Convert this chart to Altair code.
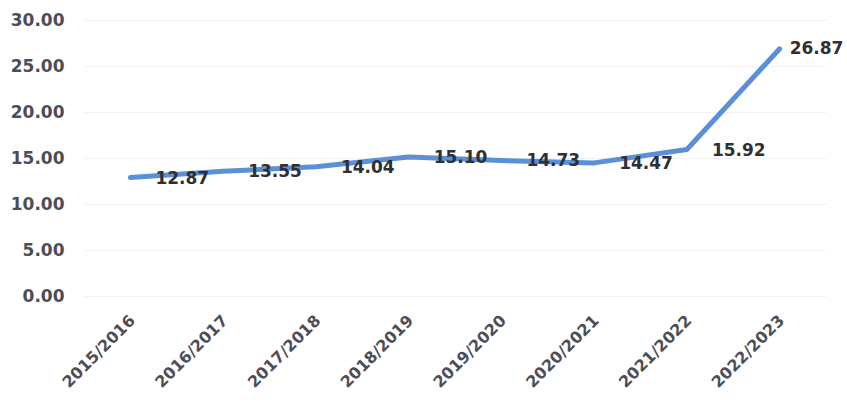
import altair as alt
import pandas as pd

years = ["2015/2016", "2016/2017", "2017/2018", "2018/2019",
         "2019/2020", "2020/2021", "2021/2022", "2022/2023"]
values = [12.87, 13.55, 14.04, 15.10, 14.73, 14.47, 15.92, 26.87]

df = pd.DataFrame({"year": years, "value": values})
last_year = years[-1]

FONT = "DejaVu Sans"

base = alt.Chart(df).encode(
    x=alt.X("year:N", sort=years, title=None,
            scale=alt.Scale(paddingInner=0, paddingOuter=0.5),
            axis=alt.Axis(labelAngle=-45, labelFont=FONT,
                          labelFontWeight="bold", labelFontSize=16,
                          labelColor="#4d4d57", ticks=False, domain=False,
                          labelPadding=16, labelOffset=-4, grid=False)),
    y=alt.Y("value:Q", title=None,
            scale=alt.Scale(domain=[0, 30], nice=False),
            axis=alt.Axis(values=[0, 5, 10, 15, 20, 25, 30], format=".2f",
                          labelFont=FONT, labelFontWeight="bold",
                          labelFontSize=17, labelColor="#4d4d57",
                          ticks=False, domain=False, labelPadding=20,
                          grid=True, gridColor="#f2f2f2", gridWidth=1)),
)

line = base.mark_line(color="#5b8fd8", strokeWidth=5, strokeCap="round",
                      strokeJoin="round")

text_style = dict(align="left", baseline="middle", font=FONT,
                  fontWeight="bold", fontSize=17, color="#2f2f35")

labels = base.mark_text(dx=25, dy=1, **text_style).encode(
    text=alt.Text("value:Q", format=".2f")
).transform_filter(alt.datum.year != last_year)

last_label = base.mark_text(dx=10, dy=0, **text_style).encode(
    text=alt.Text("value:Q", format=".2f")
).transform_filter(alt.datum.year == last_year)

chart = (line + labels + last_label).properties(
    width=742, height=276,
    padding={"left": 84, "top": 20, "right": 21, "bottom": 111},
    autosize=alt.AutoSizeParams(type="none"),
    background="white",
).configure_view(stroke=None)

chart.save("out.html", embed_options={"renderer": "svg", "actions": False})
